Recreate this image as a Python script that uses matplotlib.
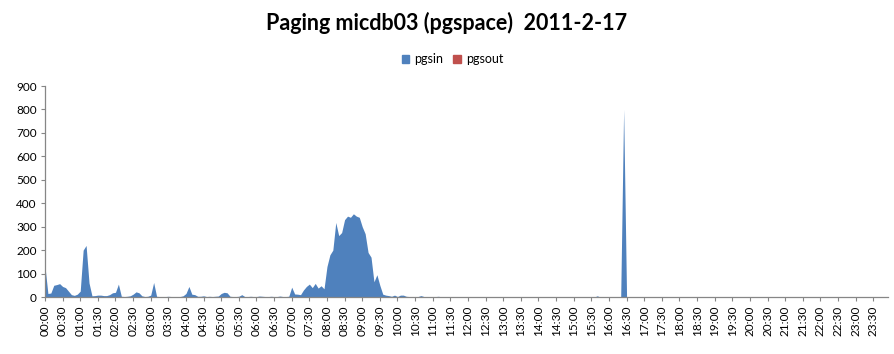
import numpy as np
import matplotlib
matplotlib.use("Agg")
import matplotlib.pyplot as plt
from matplotlib.patches import Patch

# 5-minute samples over one day, one row per hour (12 values each)
pgsin = [
    130, 15, 17, 50, 53, 57, 45, 40, 25, 10, 7, 12,        # 00
    25, 200, 220, 60, 5, 6, 8, 8, 6, 6, 10, 18,            # 01
    20, 55, 3, 2, 3, 5, 12, 22, 18, 5, 2, 3,               # 02
    8, 62, 3, 2, 2, 2, 3, 2, 2, 2, 2, 5,                   # 03
    15, 45, 12, 10, 3, 3, 5, 2, 3, 2, 3, 4,                # 04
    15, 20, 18, 3, 2, 2, 3, 10, 2, 2, 3, 2,                # 05
    2, 4, 3, 2, 2, 3, 2, 2, 4, 2, 2, 3,                    # 06
    42, 13, 12, 10, 30, 45, 55, 40, 58, 38, 48, 35,        # 07
    130, 180, 200, 318, 262, 275, 330, 345, 340, 355, 345, 340,  # 08
    300, 270, 190, 170, 65, 95, 50, 12, 8, 6, 3, 8,        # 09
    2, 8, 8, 3, 2, 2, 2, 2, 6, 2, 2, 0,                    # 10
    0, 2, 3, 0, 0, 0, 0, 0, 0, 0, 0, 0,                    # 11
    0, 0, 0, 0, 0, 0, 0, 0, 0, 0, 0, 0,                    # 12
    0, 0, 0, 0, 0, 0, 0, 0, 0, 0, 0, 0,                    # 13
    0, 0, 0, 0, 0, 0, 0, 0, 0, 0, 0, 0,                    # 14
    0, 0, 0, 0, 0, 0, 0, 0, 5, 0, 0, 0,                    # 15
    0, 0, 0, 0, 0, 800, 0, 0, 0, 0, 0, 0,                  # 16
    0, 0, 0, 0, 0, 0, 0, 0, 0, 0, 0, 0,                    # 17
    0, 0, 0, 0, 0, 0, 0, 0, 0, 0, 0, 0,                    # 18
    0, 0, 0, 0, 0, 0, 0, 0, 0, 0, 0, 0,                    # 19
    0, 0, 0, 0, 0, 0, 0, 0, 0, 0, 0, 0,                    # 20
    0, 0, 0, 0, 0, 0, 0, 0, 0, 0, 0, 0,                    # 21
    0, 0, 0, 0, 0, 0, 0, 0, 0, 0, 0, 0,                    # 22
    0, 0, 0, 0, 0, 0, 0, 0, 0, 0, 0, 0,                    # 23
]
pgsout = [0] * 288

tick_labels = ["%02d:%02d" % (h, m) for h in range(24) for m in (0, 30)]

BLUE = "#4F81BD"
RED = "#C0504D"
AXIS_GRAY = "#868686"

plt.rcParams["font.family"] = ["Lato", "DejaVu Sans"]

fig = plt.figure(figsize=(8.94, 3.54), dpi=100)
ax = fig.add_axes([0.0503, 0.161, 0.9430, 0.596])

x = np.arange(len(pgsin))
ax.fill_between(x, 0, pgsin, color=BLUE, linewidth=0)
ax.fill_between(x, 0, pgsout, color=RED, linewidth=0)

ax.set_xlim(0, len(pgsin) - 1)
ax.set_ylim(0, 900)
ax.set_yticks(range(0, 901, 100))
ax.set_xticks(x[::6])
ax.set_xticklabels(tick_labels, rotation=90, fontsize=8.5)
ax.tick_params(axis="y", labelsize=8.5, length=3, color=AXIS_GRAY, pad=3)
ax.tick_params(axis="x", length=3, color=AXIS_GRAY, pad=3)

for side in ("top", "right"):
    ax.spines[side].set_visible(False)
for side in ("left", "bottom"):
    ax.spines[side].set_color(AXIS_GRAY)
    ax.spines[side].set_linewidth(0.9)

fig.text(0.5, 0.935, "Paging micdb03 (pgspace)  2011-2-17",
         ha="center", va="center", fontsize=15.5, fontweight="bold")

handles = [Patch(color=BLUE, label="pgsin"), Patch(color=RED, label="pgsout")]
fig.legend(handles=handles, loc="center", bbox_to_anchor=(0.506, 0.833),
           ncol=2, frameon=False, fontsize=9, handlelength=0.6,
           handleheight=0.6, handletextpad=0.4, columnspacing=0.8)

fig.savefig("out.png", dpi=100)
